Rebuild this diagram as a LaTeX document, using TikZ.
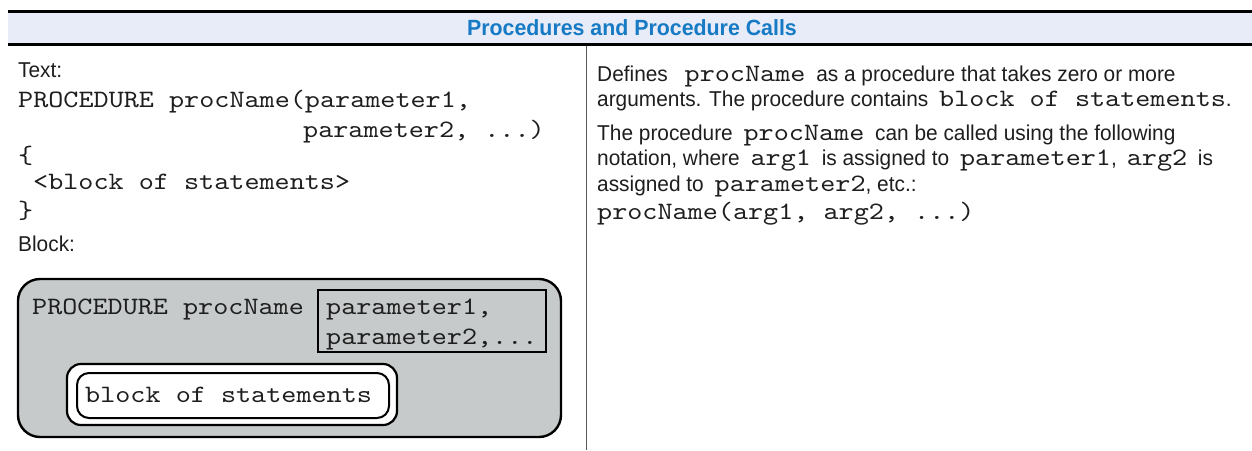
\documentclass[tikz,border=0pt]{standalone}
\usepackage{fontspec}
\setmainfont{Liberation Sans}[FakeStretch=0.97]
\newfontfamily\cw{lmmono10-regular.otf}[FakeStretch=1.15]
\definecolor{ink}{HTML}{1E1E1E}
\definecolor{titleblue}{RGB}{22,122,196}
\definecolor{band}{HTML}{E8ECF8}
\definecolor{boxgray}{HTML}{C6CACA}
% inline code word; \cdw adds the trailing gap before a following word
\newcommand\cd[1]{\hspace{5pt}{\fontsize{25}{25}\cw #1}}
\newcommand\cdw[1]{\cd{#1}\hspace{5pt}}
\tikzset{
  sans/.style={anchor=base west, inner sep=0pt, text=ink, font=\fontsize{21.5}{25}\selectfont},
  mono/.style={anchor=base west, inner sep=0pt, text=ink, font=\fontsize{25}{29}\cw},
  rule/.style={line width=3pt, black},
  outerbox/.style={draw=black, line width=2.4pt, fill=boxgray, rounded corners=22pt, minimum width=543pt, minimum height=158pt, inner sep=0pt},
  parambox/.style={draw=black, line width=2.4pt, fill=boxgray, minimum width=228pt, minimum height=62pt, inner sep=0pt},
  blockout/.style={draw=black, line width=2.2pt, fill=white, rounded corners=14pt, inner sep=0pt},
  blockin/.style={draw=black, line width=2pt, fill=white, rounded corners=12pt, inner sep=0pt},
}
\begin{document}
\begin{tikzpicture}[x=1pt,y=-1pt]
\useasboundingbox (0,0) rectangle (1252,450);

% header band
\fill[band] (8,13) rectangle (1252,43);
\draw[rule] (8,11.5) -- (1252,11.5);
\draw[rule] (8,44.5) -- (1252,44.5);
\node[anchor=base, inner sep=0pt, text=titleblue, font=\fontsize{22}{26}\selectfont\bfseries] (title) at (632,35) {Procedures and Procedure Calls};

% column divider
\coordinate (divtop) at (586.5,46);
\coordinate (divbot) at (586.5,450);
\draw[line width=1.4pt, black!65] (divtop) -- (divbot);

% left column: text form
\node[sans] (lbltext) at (18,77) {Text:};
\node[mono] (t1) at (18,107) {PROCEDURE procName(parameter1,};
\node[mono] (t2) at (303,137) {parameter2, ...)};
\node[mono] (t3) at (18,163) {\{};
\node[mono] (t4) at (33,189) {<block of statements>};
\node[mono] (t5) at (18,218) {\}};
\node[sans] (lblblock) at (18,251) {Block:};

% left column: block form
\node[outerbox] (proc) at (289.5,358) {};
\node[mono] (pname) at (32,314) {PROCEDURE procName};
\node[parambox] (params) at (432,321) {};
\node[mono] (p1) at (326,314) {parameter1,};
\node[mono] (p2) at (326,344) {parameter2,...};
\node[blockout, minimum width=330pt, minimum height=61pt] (bout) at (232,394.5) {};
\node[blockin, minimum width=312pt, minimum height=45pt] (bin) at (233,395.5) {};
\node[mono] (btext) at (85,402) {block of statements};

% right column: description
\node[sans] (d1) at (597,81) {Defines \hspace{6pt}\cdw{procName} as a procedure that takes zero or more};
\node[sans] (d2) at (597,106) {arguments. The procedure contains \cd{block of statements}.};
\node[sans] (d3) at (597,140) {The procedure \cdw{procName} can be called using the following};
\node[sans] (d4) at (597,165) {notation, where \cdw{arg1} is assigned to \cd{parameter1},\hspace{5pt}\cdw{arg2} is};
\node[sans] (d5) at (597,191) {assigned to \cd{parameter2}, etc.:};
\node[mono] (d6) at (597,219) {procName(arg1, arg2, ...)};
\end{tikzpicture}
\end{document}
